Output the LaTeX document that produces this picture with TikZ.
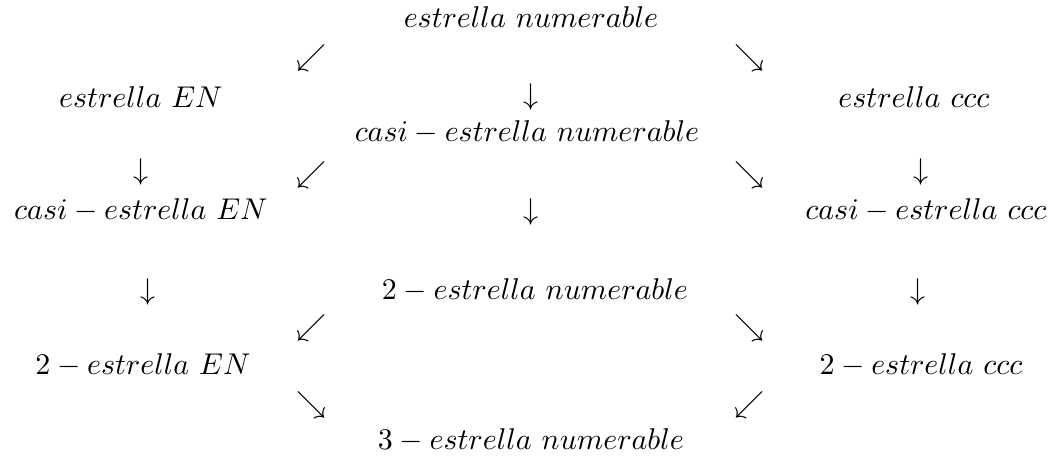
\documentclass[tikz,border=0pt]{standalone}
\usepackage{amsmath,amssymb}
\usepackage{tikz}
\usetikzlibrary{positioning}

\begin{document}
\begin{tikzpicture}[
    x=0.333pt, y=-0.333pt,
    term/.style  ={inner sep=0pt, anchor=center},
    arr/.style   ={inner sep=0pt, anchor=center},
  ]
  \useasboundingbox (0,0) rectangle (1063,460);
  % top
  \node[term] (num)   at (531, 17)  {$estrella\ numerable$};
  \node[arr]  (a1)    at (312, 58)  {$\swarrow$};
  \node[arr]  (a2)    at (750, 58)  {$\searrow$};
  % second row
  \node[term] (en)    at (141, 97)  {$estrella\ EN$};
  \node[arr]  (a3)    at (531, 97)  {$\downarrow$};
  \node[term] (ccc)   at (914, 97)  {$estrella\ ccc$};
  \node[term] (cnum)  at (527, 132) {$casi-estrella\ numerable$};
  \node[arr]  (a4)    at (141, 172) {$\downarrow$};
  \node[arr]  (a5)    at (312, 175) {$\swarrow$};
  \node[arr]  (a6)    at (750, 175) {$\searrow$};
  \node[arr]  (a7)    at (921, 172) {$\downarrow$};
  % casi row
  \node[term] (cen)   at (141, 210) {$casi-estrella\ EN$};
  \node[arr]  (a8)    at (531, 212) {$\downarrow$};
  \node[term] (cccc)  at (926, 210) {$casi-estrella\ ccc$};
  \node[arr]  (a9)    at (148, 292) {$\downarrow$};
  \node[term] (tnum)  at (535, 290) {$2-estrella\ numerable$};
  \node[arr]  (a10)   at (918, 292) {$\downarrow$};
  \node[arr]  (a11)   at (312, 328) {$\swarrow$};
  \node[arr]  (a12)   at (750, 328) {$\searrow$};
  % 2-row
  \node[term] (ten)   at (143, 365) {$2-estrella\ EN$};
  \node[term] (tccc)  at (921, 365) {$2-estrella\ ccc$};
  \node[arr]  (a13)   at (312, 405) {$\searrow$};
  \node[arr]  (a14)   at (750, 405) {$\swarrow$};
  % bottom
  \node[term] (hnum)  at (531, 440) {$3-estrella\ numerable$};
\end{tikzpicture}
\end{document}
